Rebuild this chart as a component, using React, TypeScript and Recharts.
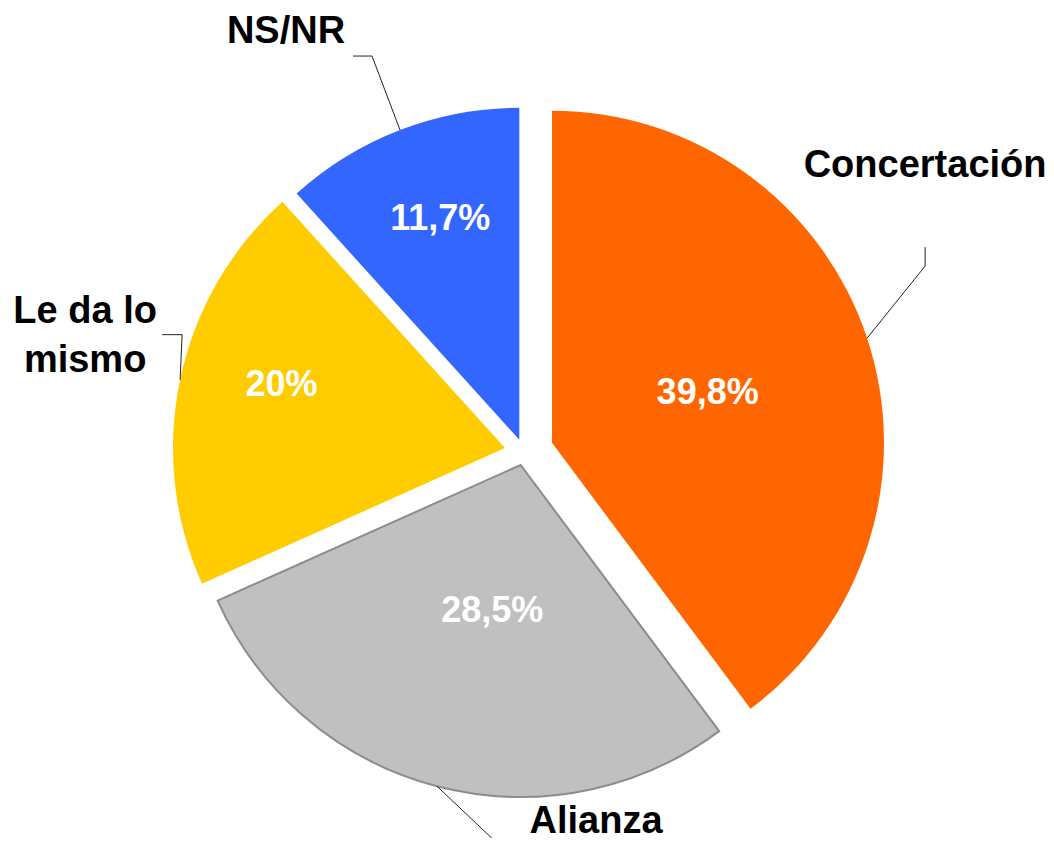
import { PieChart, Pie, Cell, Sector } from 'recharts';

// survey answers, clockwise from 12 o'clock
const CATEGORIES = ['Concertación', 'Alianza', 'Le da lo mismo', 'NS/NR'];
const VALUES = [39.8, 28.5, 20, 11.7];
const PCT_LABELS = ['39,8%', '28,5%', '20%', '11,7%'];
const NAME_LINES = [['Concertación'], ['Alianza'], ['Le da lo', 'mismo'], ['NS/NR']];

const COLORS = ['#FF6600', '#C0C0C0', '#FFCC00', '#3366FF'];
const STROKES = ['none', '#8C8C8C', 'none', 'none'];

// how far each slice is pulled out of the pie
const EXPLODE = [29.5, 13.4, 19.4, 13];
// inside % label: radius fraction from the slice tip + small nudge
const INNER_R = [0.494, 0.448, 0.7, 0.713];
const INNER_NUDGE = [[0, 0], [9, 0], [4, -17], [6, -2]];
// leader line points and name position, relative to the arc point at midAngle
const LEADERS = [
  [[58, -72], [58, -91]],
  [[95, 90]],
  [[2, -45], [-18, -45]],
  [[-28, -74], [-47, -74]],
];
const NAME_POS = [[58, -161], [159, 47], [-95, -57], [-114, -87]];

const data = CATEGORIES.map((name, i) => ({ name, value: VALUES[i] }));

const FONT = '"Liberation Sans", Arial, sans-serif';
const RAD = Math.PI / 180;

const idxOf = (p: any) => {
  const n = p?.name ?? p?.payload?.name;
  return Math.max(0, CATEGORIES.indexOf(n));
};

const tip = (cx: number, cy: number, midAngle: number, i: number) => {
  const a = -midAngle * RAD;
  return { x: cx + EXPLODE[i] * Math.cos(a), y: cy + EXPLODE[i] * Math.sin(a), a };
};

const ExplodedSector = (props: any) => {
  const i = idxOf(props);
  const t = tip(props.cx, props.cy, props.midAngle, i);
  return (
    <Sector
      {...props}
      cx={t.x}
      cy={t.y}
      fill={COLORS[i]}
      stroke={STROKES[i]}
      strokeWidth={STROKES[i] === 'none' ? 0 : 2}
    />
  );
};

const renderLabel = (props: any) => {
  const i = idxOf(props);
  const { cx, cy, midAngle, outerRadius } = props;
  const t = tip(cx, cy, midAngle, i);
  const cos = Math.cos(t.a);
  const sin = Math.sin(t.a);

  const ir = outerRadius * INNER_R[i];
  const ix = t.x + ir * cos + INNER_NUDGE[i][0];
  const iy = t.y + ir * sin + INNER_NUDGE[i][1];

  const ox = t.x + outerRadius * cos;
  const oy = t.y + outerRadius * sin;
  const pts = [[ox, oy], ...LEADERS[i].map(([dx, dy]) => [ox + dx, oy + dy])];

  const nx = ox + NAME_POS[i][0];
  const ny = oy + NAME_POS[i][1];

  return (
    <g key={`lbl-${i}`}>
      <text
        x={ix}
        y={iy + 13}
        textAnchor="middle"
        fill="#FFFFFF"
        fontFamily={FONT}
        fontWeight="bold"
        fontSize={36}
      >
        {PCT_LABELS[i]}
      </text>
      <polyline
        points={pts.map((p) => p.join(',')).join(' ')}
        fill="none"
        stroke="#222"
        strokeWidth={1}
      />
      <text
        x={nx}
        y={ny}
        textAnchor="middle"
        fill="#000"
        fontFamily={FONT}
        fontWeight="bold"
        fontSize={38}
      >
        {NAME_LINES[i].map((line, k) => (
          <tspan key={k} x={nx} dy={k === 0 ? 0 : 49}>
            {line}
          </tspan>
        ))}
      </text>
    </g>
  );
};

export default function App() {
  return (
    <div style={{ margin: -8, width: 1054, height: 846, overflow: 'hidden', background: '#fff' }}>
      <PieChart width={1054} height={846} margin={{ top: 0, right: 0, bottom: 0, left: 0 }}>
        <Pie
          data={data}
          dataKey="value"
          nameKey="name"
          cx={524}
          cy={452}
          innerRadius={0}
          outerRadius={332}
          startAngle={90}
          endAngle={-270}
          shape={ExplodedSector}
          label={renderLabel}
          labelLine={false}
          isAnimationActive={false}
        >
          {data.map((d, i) => (
            <Cell key={d.name} fill={COLORS[i]} stroke={STROKES[i]} />
          ))}
        </Pie>
      </PieChart>
    </div>
  );
}
